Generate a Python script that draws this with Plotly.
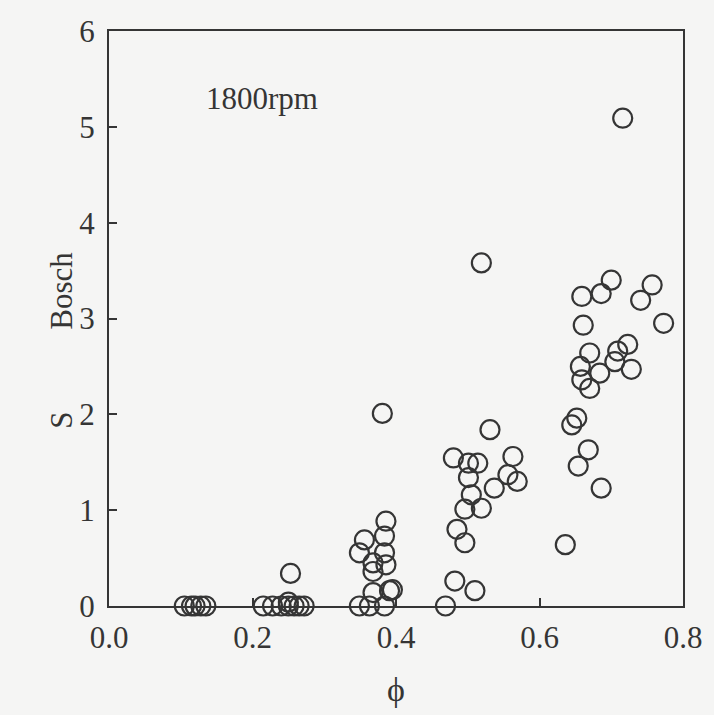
import plotly.graph_objects as go

# equivalence ratio (phi) and Bosch smoke number (S_Bosch), 1800 rpm
phi = [
    0.105, 0.115, 0.120, 0.128, 0.135,
    0.215, 0.228, 0.240, 0.250, 0.258, 0.265, 0.272, 0.250, 0.253,
    0.386, 0.356, 0.384, 0.349, 0.384, 0.368, 0.386, 0.368, 0.368, 0.391, 0.395,
    0.349, 0.363, 0.384, 0.381, 0.469,
    0.531, 0.480, 0.501, 0.514, 0.563, 0.501, 0.556, 0.569, 0.537, 0.505,
    0.519, 0.496, 0.485, 0.496, 0.482, 0.510, 0.519,
    0.636, 0.652, 0.645, 0.668, 0.654, 0.686,
    0.670, 0.657, 0.659, 0.670, 0.684, 0.705, 0.709, 0.723, 0.728,
    0.659, 0.686, 0.700, 0.741, 0.757, 0.661, 0.773, 0.716,
]
s_bosch = [
    0.0, 0.0, 0.0, 0.0, 0.0,
    0.0, 0.0, 0.0, 0.0, 0.0, 0.0, 0.0, 0.04, 0.34,
    0.885, 0.69, 0.73, 0.555, 0.555, 0.45, 0.43, 0.36, 0.14, 0.16, 0.17,
    0.0, 0.0, 0.0, 2.01, 0.0,
    1.84, 1.545, 1.49, 1.49, 1.56, 1.34, 1.37, 1.30, 1.23, 1.16,
    1.02, 1.01, 0.80, 0.66, 0.26, 0.16, 3.58,
    0.64, 1.96, 1.89, 1.63, 1.46, 1.23,
    2.64, 2.50, 2.36, 2.27, 2.43, 2.55, 2.66, 2.73, 2.47,
    3.23, 3.26, 3.40, 3.19, 3.35, 2.93, 2.95, 5.09,
]

x_ticks = [0.0, 0.2, 0.4, 0.6, 0.8]
x_ticktext = ["0.0", "0.2", "0.4", "0.6", "0.8"]
y_ticks = [0, 1, 2, 3, 4, 5, 6]

ink = "#353535"
bg = "#f5f5f4"
font_family = "Times New Roman, Liberation Serif, Times, serif"

fig = go.Figure()
fig.add_trace(go.Scatter(
    x=phi, y=s_bosch, mode="markers",
    marker=dict(symbol="circle-open", size=19, color=ink, line=dict(width=2.2, color=ink)),
    cliponaxis=False, showlegend=False,
))

axis_common = dict(
    showgrid=False, zeroline=False, showline=True, linecolor=ink, linewidth=2,
    mirror=True, ticks="inside", ticklen=8, tickwidth=2, tickcolor=ink,
    tickfont=dict(family=font_family, size=31, color=ink),
)
fig.update_xaxes(range=[0, 0.8], tickvals=x_ticks, ticktext=x_ticktext,
                 ticklabelstandoff=3, **axis_common)
fig.update_yaxes(range=[0, 6], tickvals=y_ticks, ticklabelstandoff=6, **axis_common)

ann_font = dict(family=font_family, size=31, color=ink)
fig.update_layout(
    width=714, height=715,
    margin=dict(l=109, r=26, t=31, b=109),
    paper_bgcolor=bg, plot_bgcolor=bg,
    annotations=[
        dict(text="1800rpm", x=0.266, y=0.882, xref="paper", yref="paper",
             xanchor="center", yanchor="middle", showarrow=False, font=ann_font),
        dict(text="ϕ", x=0.5, y=-0.146, xref="paper", yref="paper",
             xanchor="center", yanchor="middle", showarrow=False,
             font=dict(family=font_family, size=34, color=ink)),
        dict(text="S", x=-0.083, y=0.323, xref="paper", yref="paper", textangle=-90,
             xanchor="center", yanchor="middle", showarrow=False, font=ann_font),
        dict(text="Bosch", x=-0.083, y=0.549, xref="paper", yref="paper", textangle=-90,
             xanchor="center", yanchor="middle", showarrow=False, font=ann_font),
    ],
)

fig.write_html(
    "out.html",
    config={"displayModeBar": False},
    post_script="document.body.style.margin='0';document.body.style.background='%s';"
                "document.body.style.overflow='hidden';" % bg,
)
